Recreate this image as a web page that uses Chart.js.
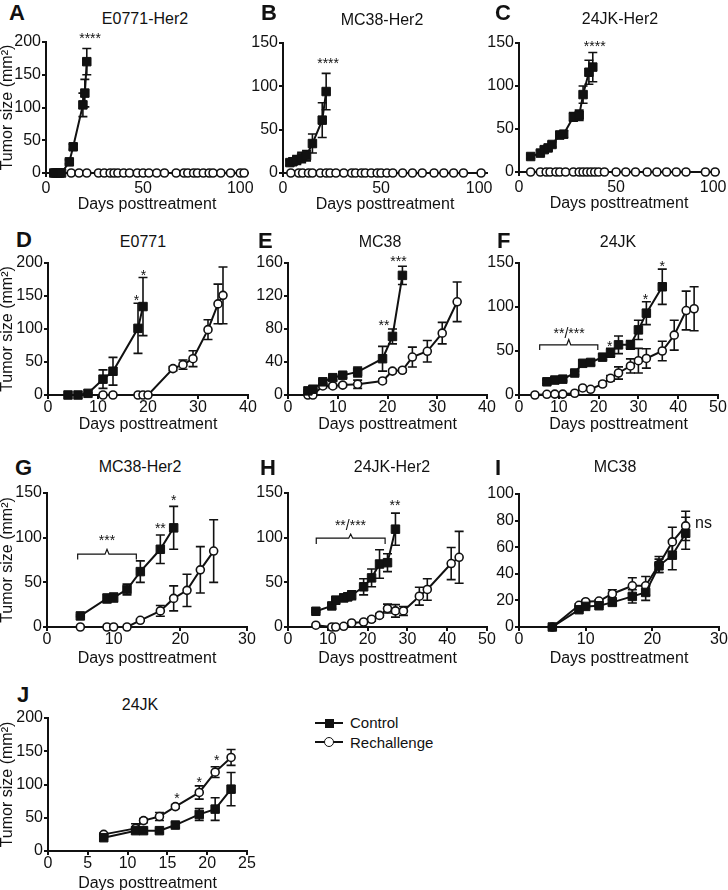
<!DOCTYPE html>
<html>
<head>
<meta charset="utf-8">
<script src="https://cdn.jsdelivr.net/npm/chart.js@4.4.0/dist/chart.umd.min.js"></script>
<style>
  body { margin: 0; width: 728px; height: 890px; position: relative; overflow: hidden; background: #fff;
         font-family: "Liberation Sans", Arial, sans-serif; color: #111; }
  canvas { position: absolute; }
  .ttl { position: absolute; font-size: 16px; line-height: 1; white-space: nowrap; transform: translate(-50%, -50%); }
  .letter { position: absolute; font-size: 22px; font-weight: bold; line-height: 1; transform: translateY(-50%); }
  .leg { position: absolute; font-size: 15px; line-height: 1; transform: translateY(-50%); }
</style>
</head>
<body>
<script>
"use strict";

// A: E0771-Her2
const aCtrlDays = [4, 5, 6, 7, 8, 12, 14, 19, 20, 21];
const aCtrlSize = [0, 0, 0, 0, 0, 17, 40, 104, 122, 170];
const aCtrlSem  = [0, 0, 0, 0, 0, 3, 4, 18, 21, 20];
const aReDays = [13, 17, 21, 27, 30, 33, 35, 37, 40, 43, 47, 50, 53, 57, 61, 67, 71, 73, 76, 78, 81, 84, 86, 90, 95, 100, 102];
const aReSize = aReDays.map(() => 0);
const aReSem  = aReDays.map(() => 0);

// B: MC38-Her2
const bCtrlDays = [3.5, 5, 7, 9.5, 12, 15, 20, 22];
const bCtrlSize = [12, 13, 15, 18, 20, 34, 61, 94];
const bCtrlSem  = [3, 4, 5, 6, 6, 11, 20, 21];
const bReDays = [4, 8, 10, 13, 15, 19, 22, 24, 27, 31, 35, 37, 40, 42, 45, 48, 50, 53, 56, 61, 66, 71, 77, 82, 87, 92, 101];
const bReSize = bReDays.map(() => 0);
const bReSem  = bReDays.map(() => 0);

// C: 24JK-Her2
const cCtrlDays = [6, 11, 13, 15, 17, 21, 23, 28, 31, 33, 36, 38];
const cCtrlSize = [18, 22, 26, 28, 32, 43, 44, 64, 66, 90, 116, 122];
const cCtrlSem  = [2, 3, 3, 3, 3, 4, 4, 5, 6, 10, 14, 17];
const cReDays = [6, 11, 14, 16, 19, 21, 24, 28, 31, 33, 35, 37, 39, 41, 44, 50, 55, 60, 66, 71, 76, 81, 86, 96, 101];
const cReSize = cReDays.map(() => 0);
const cReSem  = cReDays.map(() => 0);

// D: E0771
const dCtrlDays = [4, 6, 8, 11, 13, 18, 19];
const dCtrlSize = [0, 0, 2.5, 24, 36, 101, 134];
const dCtrlSem  = [0, 0, 1, 14, 21, 38, 44];
const dReDays = [11, 13, 18, 19, 20, 25, 27, 29, 32, 34, 35];
const dReSize = [0, 0, 0, 0, 0, 40, 46, 55, 99, 138, 151];
const dReSem  = [0, 0, 0, 0, 0, 3, 7, 12, 15, 30, 43];

// E: MC38
const eCtrlDays = [4, 5, 7, 9, 11, 14, 19, 21, 23];
const eCtrlSize = [5, 7, 16, 21, 24, 28, 44, 71, 145];
const eCtrlSem  = [1, 1, 2, 3, 3, 6, 15, 9, 11];
const eReDays = [4, 5, 7, 9, 11, 14, 19, 21, 23, 25, 28, 31, 34];
const eReSize = [0, 0, 11, 11, 12, 13, 17, 29, 30, 46, 53, 75, 113];
const eReSem  = [0, 0, 2, 2, 2, 5, 2, 2, 2, 12, 13, 13, 24];

// F: 24JK
const fCtrlDays = [7, 9, 11, 14, 16, 18, 21, 23, 25, 28, 30, 32, 36];
const fCtrlSize = [15, 17, 18, 25, 36, 37, 43, 48, 57, 57, 74, 93, 123];
const fCtrlSem  = [2, 2, 2, 2, 3, 3, 3, 5, 10, 5, 11, 13, 20];
const fReDays = [4, 7, 9, 11, 14, 16, 18, 21, 23, 25, 28, 30, 32, 36, 39, 42, 44];
const fReSize = [0, 0.8, 1, 1, 2, 8, 6.5, 12.5, 19, 25, 33, 39, 41.5, 50, 68, 96, 98];
const fReSem  = [0, 0, 0, 0, 0, 1, 1, 2, 3, 7, 8, 14, 11, 11, 17, 22, 25];

// G: MC38-Her2
const gCtrlDays = [5, 9, 10, 12, 14, 17, 19];
const gCtrlSize = [12.4, 32, 33, 42, 62, 87, 111];
const gCtrlSem  = [1, 5, 5, 6, 12, 16, 24];
const gReDays = [5, 9, 10, 12, 14, 17, 19, 21, 23, 25];
const gReSize = [0, 0, 0, 0, 7.5, 18, 32, 41, 64, 85];
const gReSem  = [0, 0, 0, 0, 1, 6, 14, 18, 26, 35];

// H: 24JK-Her2
const hCtrlDays = [7, 11, 12, 14, 15, 16, 19, 21, 23, 25, 27];
const hCtrlSize = [17.6, 23.6, 30, 32.6, 33.8, 35.6, 45, 55, 70.5, 72, 109.5];
const hCtrlSem  = [1, 3, 4, 4, 4, 5, 9, 10, 16, 10, 18];
const hReDays = [7, 11, 12, 14, 16, 19, 21, 23, 25, 27, 29, 33, 35, 41, 43];
const hReSize = [2, 0, 0, 0.8, 4.5, 5.6, 8.6, 13, 20.6, 18, 18, 34.5, 42, 71, 78];
const hReSem  = [0, 0, 0, 0, 1, 1, 2, 2, 5, 7, 5, 10, 12, 18, 29];

// I: MC38
const iDays = [5, 9, 10, 12, 14, 17, 19, 21, 23, 25];
const iCtrlSize = [0, 13, 15.5, 16, 18.5, 23, 26, 46, 54, 70.5];
const iCtrlSem  = [0, 1, 1, 1, 2, 5, 6, 5, 11, 12];
const iReSize = [0, 16.3, 19, 19.5, 25, 31, 31, 47, 64, 76];
const iReSem  = [0, 1, 1, 1, 3, 6, 7, 6, 11, 11];

// J: 24JK
const jDays = [7, 11, 12, 14, 16, 19, 21, 23];
const jCtrlSize = [20, 30.6, 30.6, 30.6, 39, 55, 63, 93];
const jCtrlSem  = [2, 3, 3, 3, 4, 9, 17, 25];
const jReSize = [25, 34, 45.7, 51.8, 66.8, 88, 118.6, 140.7];
const jReSem  = [2, 7, 3, 6, 3, 10, 8, 12];

// significance marks: [text, day, size]
const aStars = [['****', 22.7, 210]];
const bStars = [['****', 23, 130]];
const cStars = [['****', 39, 150]];
const dStars = [['*', 17.7, 148], ['*', 19.1, 186]];
const eStars = [['**', 19.3, 89], ['***', 22.2, 166]];
const fStars = [['**/***', 12.6, 74], ['*', 22.8, 59], ['*', 31.8, 113], ['*', 36, 150]];
const gStars = [['***', 9, 101], ['**', 17, 114], ['*', 19, 146]];
const hStars = [['**/***', 15.7, 118], ['**', 26.9, 140]];
const jStars = [['*', 16.2, 84], ['*', 19, 108], ['*', 21.2, 142]];
// braces: [fromDay, toDay, level, endLevel, peakLevel]
const fBrace = [5.2, 19.8, 57, 51, 63];
const gBrace = [4.6, 13.4, 81.5, 75.5, 87];
const hBrace = [7.1, 24.4, 99.4, 93, 104];

const INK = '#111';
const FONT = '"Liberation Sans", Arial, sans-serif';
Chart.defaults.font.family = FONT;
Chart.defaults.color = INK;

const rows = [
  { top: 0,   xTitleH: 40, xPad: 4 },
  { top: 220, xTitleH: 38, xPad: 1 },
  { top: 440, xTitleH: 40, xPad: 1 },
  { top: 660, xTitleH: 41, xPad: 1 }
];

const panels = [
  { letter: 'A', title: 'E0771-Her2', row: 0, L: 46,  R: 248, T: 42,  B: 173, xMax: 104, xStep: 50, yMax: 200, yStep: 50, yTitle: true,
    ctrl: [aCtrlDays, aCtrlSize, aCtrlSem], re: [aReDays, aReSize, aReSem], stars: aStars, lx: 9, ly: 13, tx: 145, ty: 19 },
  { letter: 'B', title: 'MC38-Her2', row: 0, L: 283, R: 487, T: 43, B: 173, xMax: 104, xStep: 50, yMax: 150, yStep: 50,
    ctrl: [bCtrlDays, bCtrlSize, bCtrlSem], re: [bReDays, bReSize, bReSem], stars: bStars, lx: 261, ly: 13, tx: 382, ty: 20 },
  { letter: 'C', title: '24JK-Her2', row: 0, L: 519, R: 719, T: 43, B: 172, xMax: 103, xStep: 50, yMax: 150, yStep: 50,
    ctrl: [cCtrlDays, cCtrlSize, cCtrlSem], re: [cReDays, cReSize, cReSem], stars: cStars, lx: 495, ly: 13, tx: 620, ty: 19 },
  { letter: 'D', title: 'E0771', row: 1, L: 48, R: 248, T: 263, B: 395, xMax: 40, xStep: 10, yMax: 200, yStep: 50, yTitle: true,
    ctrl: [dCtrlDays, dCtrlSize, dCtrlSem], re: [dReDays, dReSize, dReSem], stars: dStars, lx: 16, ly: 240, tx: 143, ty: 242 },
  { letter: 'E', title: 'MC38', row: 1, L: 288, R: 487, T: 263, B: 395, xMax: 40, xStep: 10, yMax: 160, yStep: 40,
    ctrl: [eCtrlDays, eCtrlSize, eCtrlSem], re: [eReDays, eReSize, eReSem], stars: eStars, lx: 258, ly: 241, tx: 380, ty: 242 },
  { letter: 'F', title: '24JK', row: 1, L: 519, R: 718, T: 263, B: 395, xMax: 50, xStep: 10, yMax: 150, yStep: 50,
    ctrl: [fCtrlDays, fCtrlSize, fCtrlSem], re: [fReDays, fReSize, fReSem], stars: fStars, brace: fBrace, lx: 497, ly: 241, tx: 618, ty: 242 },
  { letter: 'G', title: 'MC38-Her2', row: 2, L: 47, R: 247, T: 493, B: 627, xMax: 30, xStep: 10, yMax: 150, yStep: 50, yTitle: true,
    ctrl: [gCtrlDays, gCtrlSize, gCtrlSem], re: [gReDays, gReSize, gReSem], stars: gStars, brace: gBrace, lx: 15, ly: 468, tx: 140, ty: 467 },
  { letter: 'H', title: '24JK-Her2', row: 2, L: 288, R: 487, T: 493, B: 627, xMax: 50, xStep: 10, yMax: 150, yStep: 50,
    ctrl: [hCtrlDays, hCtrlSize, hCtrlSem], re: [hReDays, hReSize, hReSem], stars: hStars, brace: hBrace, lx: 260, ly: 468, tx: 392, ty: 467 },
  { letter: 'I', title: 'MC38', row: 2, L: 519, R: 719, T: 494, B: 627, xMax: 30, xStep: 10, yMax: 100, yStep: 20,
    ctrl: [iDays, iCtrlSize, iCtrlSem], re: [iDays, iReSize, iReSem], stars: [], ns: [26.4, 78], lx: 495, ly: 468, tx: 615, ty: 467 },
  { letter: 'J', title: '24JK', row: 3, L: 48, R: 247, T: 718, B: 851, xMax: 25, xStep: 5, yMax: 200, yStep: 50, yTitle: true,
    ctrl: [jDays, jCtrlSize, jCtrlSem], re: [jDays, jReSize, jReSem], stars: jStars, lx: 17, ly: 695, tx: 140, ty: 705 }
];

const errorBars = {
  id: 'errorBars',
  beforeDatasetsDraw(chart) {
    const { ctx, scales: { x, y } } = chart;
    ctx.save();
    ctx.strokeStyle = INK;
    ctx.lineWidth = 1.6;
    chart.data.datasets.forEach(ds => {
      ds.sem.forEach((e, i) => {
        if (!e) return;
        const pt = ds.data[i];
        const px = x.getPixelForValue(pt.x);
        const top = y.getPixelForValue(pt.y + e);
        const bot = y.getPixelForValue(Math.max(pt.y - e, 0));
        ctx.beginPath();
        ctx.moveTo(px, top); ctx.lineTo(px, bot);
        ctx.moveTo(px - 4.5, top); ctx.lineTo(px + 4.5, top);
        ctx.moveTo(px - 4.5, bot); ctx.lineTo(px + 4.5, bot);
        ctx.stroke();
      });
    });
    ctx.restore();
  }
};

const marks = {
  id: 'marks',
  afterDatasetsDraw(chart, args, opts) {
    const { ctx, scales: { x, y } } = chart;
    ctx.save();
    ctx.fillStyle = INK;
    ctx.strokeStyle = INK;
    ctx.textAlign = 'center';
    ctx.textBaseline = 'alphabetic';
    ctx.font = '14px ' + FONT;
    (opts.stars || []).forEach(([txt, d, v]) => {
      ctx.fillText(txt, x.getPixelForValue(d), y.getPixelForValue(v) + 8);
    });
    if (opts.brace) {
      const [d1, d2, lv, ev, pv] = opts.brace;
      const x1 = x.getPixelForValue(d1), x2 = x.getPixelForValue(d2), xm = (x1 + x2) / 2;
      const yl = y.getPixelForValue(lv), ye = y.getPixelForValue(ev), yp = y.getPixelForValue(pv);
      ctx.lineWidth = 1.2;
      ctx.beginPath();
      ctx.moveTo(x1, ye); ctx.lineTo(x1, yl); ctx.lineTo(xm - 2, yl); ctx.lineTo(xm, yp);
      ctx.lineTo(xm + 2, yl); ctx.lineTo(x2, yl); ctx.lineTo(x2, ye);
      ctx.stroke();
    }
    if (opts.ns) {
      ctx.font = '16px ' + FONT;
      ctx.textAlign = 'left';
      ctx.fillText('ns', x.getPixelForValue(opts.ns[0]), y.getPixelForValue(opts.ns[1]) + 5);
    }
    ctx.restore();
  }
};

const toPoints = (days, sizes) => days.map((d, i) => ({ x: d, y: sizes[i] }));

const addText = (cls, txt, left, top) => {
  const el = document.createElement('div');
  el.className = cls;
  el.textContent = txt;
  el.style.left = left + 'px';
  el.style.top = top + 'px';
  document.body.appendChild(el);
};

const makePanel = (p) => {
  const row = rows[p.row];
  const yW = p.yTitle ? p.L : 45;
  const left = p.L - yW;
  const top = row.top;
  const padRight = 14;
  const w = p.R + padRight - left;
  const h = p.B + row.xTitleH - top;

  addText('letter', p.letter, p.lx, p.ly);
  addText('ttl', p.title, p.tx, p.ty);

  const cv = document.createElement('canvas');
  cv.width = w; cv.height = h;
  cv.style.left = left + 'px'; cv.style.top = top + 'px';
  document.body.appendChild(cv);

  const tickFont = { size: 16, lineHeight: 1 };
  new Chart(cv, {
    type: 'line',
    data: {
      datasets: [
        { label: 'Control', data: toPoints(p.ctrl[0], p.ctrl[1]), sem: p.ctrl[2],
          borderColor: INK, borderWidth: 2, pointStyle: 'rect', pointRadius: 6,
          pointBackgroundColor: INK, pointBorderColor: INK, pointBorderWidth: 1, clip: false },
        { label: 'Rechallenge', data: toPoints(p.re[0], p.re[1]), sem: p.re[2],
          borderColor: INK, borderWidth: 2, pointStyle: 'circle', pointRadius: 4,
          pointBackgroundColor: '#fff', pointBorderColor: INK, pointBorderWidth: 1.6, clip: false }
      ]
    },
    options: {
      responsive: false,
      animation: false,
      layout: { padding: { left: 0, top: p.T - top, right: padRight, bottom: 0 } },
      plugins: {
        legend: { display: false },
        tooltip: { enabled: false },
        marks: { stars: p.stars, brace: p.brace || null, ns: p.ns || null }
      },
      scales: {
        x: {
          type: 'linear', min: 0, max: p.xMax,
          ticks: { stepSize: p.xStep, includeBounds: false, font: tickFont, padding: row.xPad, maxRotation: 0, autoSkip: false },
          grid: { drawOnChartArea: false, drawTicks: true, tickLength: 4, color: INK, lineWidth: 2 },
          border: { display: true, color: INK, width: 2 },
          title: { display: true, text: 'Days posttreatment', font: { size: 16, lineHeight: 1 }, padding: 0 },
          afterFit: (s) => { s.height = row.xTitleH; }
        },
        y: {
          min: 0, max: p.yMax,
          ticks: { stepSize: p.yStep, includeBounds: false, font: tickFont, padding: 1 },
          grid: { drawOnChartArea: false, drawTicks: true, tickLength: 4, color: INK, lineWidth: 2 },
          border: { display: true, color: INK, width: 2 },
          title: { display: !!p.yTitle, text: 'Tumor size (mm²)', font: { size: 16, lineHeight: 1 }, padding: 0 },
          afterFit: (s) => { s.width = yW; }
        }
      }
    },
    plugins: [errorBars, marks]
  });
};

panels.forEach(makePanel);
</script>

<div style="position:absolute;left:315px;top:722px;width:28px;height:2px;background:#111"></div>
<div style="position:absolute;left:325px;top:719px;width:9px;height:9px;background:#111"></div>
<div class="leg" style="left:350px;top:722px">Control</div>
<div style="position:absolute;left:315px;top:741px;width:28px;height:2px;background:#111"></div>
<div style="position:absolute;left:324px;top:737px;width:8px;height:8px;border:1.5px solid #111;border-radius:50%;background:#fff"></div>
<div class="leg" style="left:350px;top:742px">Rechallenge</div>
</body>
</html>
